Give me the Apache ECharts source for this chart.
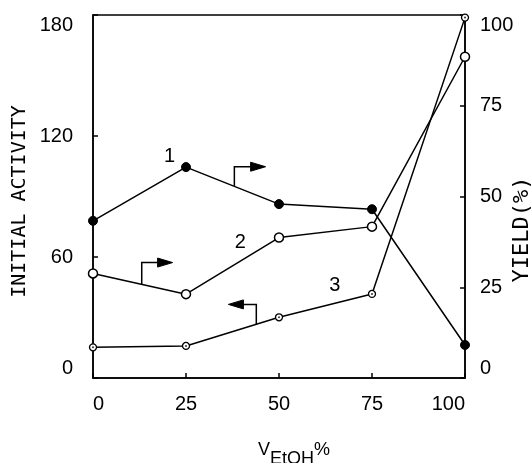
<!DOCTYPE html>
<html><head><meta charset="utf-8">
<script src="https://cdn.jsdelivr.net/npm/echarts@6/dist/echarts.min.js"></script>
<style>html,body{margin:0;padding:0;background:#fff}#c{width:531px;height:463px}</style>
</head><body><div id="c"></div>
<script>
// ---- data ----
const xValues = [0, 25, 50, 75, 100];
const yield1 = [43.3, 58.1, 47.9, 46.5, 9.1];      // curve 1, right axis (YIELD %)
const yield2 = [28.8, 23.1, 38.7, 41.7, 88.5];     // curve 2, right axis (YIELD %)
const activity3 = [15.2, 15.9, 30.1, 41.7, 178.7]; // curve 3, left axis (INITIAL ACTIVITY)
const xTicks = [0, 25, 50, 75, 100];
const leftTicks = [0, 60, 120, 180];
const rightTicks = [0, 25, 50, 75, 100];
// curve number labels (data coords) and bent arrows pointing to each curve's axis
const curveLabels = [
  {text: '1', x: 20.6, y: 60.9, axis: 1},
  {text: '2', x: 39.6, y: 37.2, axis: 1},
  {text: '3', x: 65.0, y: 46.1, axis: 0}
];
const arrows = [
  {x: 38.0, from: 52.8, to: 58.2, tipX: 46.4, axis: 1},
  {x: 13.1, from: 25.8, to: 31.8, tipX: 21.4, axis: 1},
  {x: 43.9, from: 26.6, to: 36.5, tipX: 36.4, axis: 0}
];

const pairs = v => xValues.map((x, i) => [x, v[i]]);
const FONT = 'Liberation Sans, Arial, sans-serif';
const MONO = 'DejaVu Sans Mono, monospace';
const axisLineStyle = {color: '#000', width: 1.5};

const chart = echarts.init(document.getElementById('c'), null, {renderer: 'canvas'});
const option = {
  animation: false,
  backgroundColor: '#fff',
  grid: {left: 93, right: 66, top: 15, bottom: 85, show: true, borderColor: '#000', borderWidth: 1.5, outerBoundsMode: 'none', containLabel: false},
  xAxis: {
    type: 'value', min: xTicks[0], max: xTicks[xTicks.length - 1], interval: xTicks[1] - xTicks[0],
    axisLine: {show: true, onZero: false, lineStyle: axisLineStyle},
    axisTick: {show: true, inside: true, length: 5, lineStyle: axisLineStyle},
    splitLine: {show: false},
    axisLabel: {fontSize: 20, color: '#000', fontFamily: FONT, margin: 16, alignMinLabel: 'left', alignMaxLabel: 'right'},
    name: '{v|V}{s|EtOH}{v|%}',
    nameLocation: 'middle', nameGap: 63, nameMoveOverlap: false,
    nameTextStyle: {
      padding: [0, 0, 0, 30],
      rich: {
        v: {fontSize: 18, fontFamily: FONT, color: '#000', lineHeight: 18, verticalAlign: 'top'},
        s: {fontSize: 18, fontFamily: FONT, color: '#000', lineHeight: 27, verticalAlign: 'bottom'}
      }
    }
  },
  yAxis: [
    {
      type: 'value', position: 'left', min: leftTicks[0], max: leftTicks[leftTicks.length - 1], interval: leftTicks[1] - leftTicks[0],
      axisLine: {show: true, onZero: false, lineStyle: axisLineStyle},
      axisTick: {show: true, inside: true, length: 5, lineStyle: axisLineStyle},
      splitLine: {show: false},
      axisLabel: {fontSize: 20, color: '#000', fontFamily: FONT, margin: 20, verticalAlignMinLabel: 'bottom', verticalAlignMaxLabel: 'top'},
      name: 'INITIAL ACTIVITY', nameLocation: 'middle', nameRotate: 90, nameGap: 63, nameMoveOverlap: false,
      nameTextStyle: {fontSize: 20, fontFamily: MONO, color: '#000', padding: [0, 10, 0, 0]}
    },
    {
      type: 'value', position: 'right', min: rightTicks[0], max: rightTicks[rightTicks.length - 1], interval: rightTicks[1] - rightTicks[0],
      axisLine: {show: true, onZero: false, lineStyle: axisLineStyle},
      axisTick: {show: true, inside: true, length: 5, lineStyle: axisLineStyle},
      splitLine: {show: false},
      axisLabel: {fontSize: 20, color: '#000', fontFamily: FONT, margin: 15, verticalAlignMinLabel: 'bottom', verticalAlignMaxLabel: 'top'},
      name: 'YIELD(%)', nameLocation: 'middle', nameRotate: 90, nameGap: 46, nameMoveOverlap: false,
      nameTextStyle: {fontSize: 22, fontFamily: MONO, color: '#000', padding: [0, 66, 0, 0]}
    }
  ],
  series: [
    {
      name: '1', type: 'line', yAxisIndex: 1, data: pairs(yield1), clip: false,
      symbol: 'circle', symbolSize: 9,
      lineStyle: {color: '#000', width: 1.5},
      itemStyle: {color: '#000', borderColor: '#000', borderWidth: 1}
    },
    {
      name: '2', type: 'line', yAxisIndex: 1, data: pairs(yield2), clip: false,
      symbol: 'circle', symbolSize: 9,
      lineStyle: {color: '#000', width: 1.5},
      itemStyle: {color: '#fff', borderColor: '#000', borderWidth: 1.5}
    },
    {
      name: '3', type: 'line', yAxisIndex: 0, data: pairs(activity3), clip: false,
      symbol: 'circle', symbolSize: 7,
      lineStyle: {color: '#000', width: 1.5},
      itemStyle: {color: '#fff', borderColor: '#000', borderWidth: 1.3}
    },
    {
      name: '3dot', type: 'scatter', yAxisIndex: 0, data: pairs(activity3), z: 5,
      symbol: 'circle', symbolSize: 2, itemStyle: {color: '#000'}
    }
  ]
};
chart.setOption(option);

// annotations positioned through the chart's own scales
const px = (axis, x, y) => chart.convertToPixel({xAxisIndex: 0, yAxisIndex: axis}, [x, y]);
const graphics = [];
curveLabels.forEach(l => {
  const p = px(l.axis, l.x, l.y);
  graphics.push({type: 'text', x: p[0], y: p[1], z: 10,
    style: {text: l.text, fill: '#000', font: '20px ' + FONT, textAlign: 'center', textVerticalAlign: 'middle'}});
});
arrows.forEach(a => {
  const b = px(a.axis, a.x, a.from);
  const t = px(a.axis, a.x, a.to);
  const tip = px(a.axis, a.tipX, a.to);
  const dir = tip[0] > t[0] ? 1 : -1;
  const baseX = tip[0] - dir * 15;
  graphics.push({type: 'polyline', z: 10, shape: {points: [[b[0], b[1]], [t[0], t[1]], [baseX, t[1]]]},
    style: {stroke: '#000', lineWidth: 1.5, fill: null}});
  graphics.push({type: 'polygon', z: 10, shape: {points: [[tip[0], t[1]], [baseX, t[1] - 4.5], [baseX, t[1] + 4.5]]},
    style: {fill: '#000', stroke: '#000', lineWidth: 1}});
});
chart.setOption({graphic: graphics});
</script>
</body></html>
